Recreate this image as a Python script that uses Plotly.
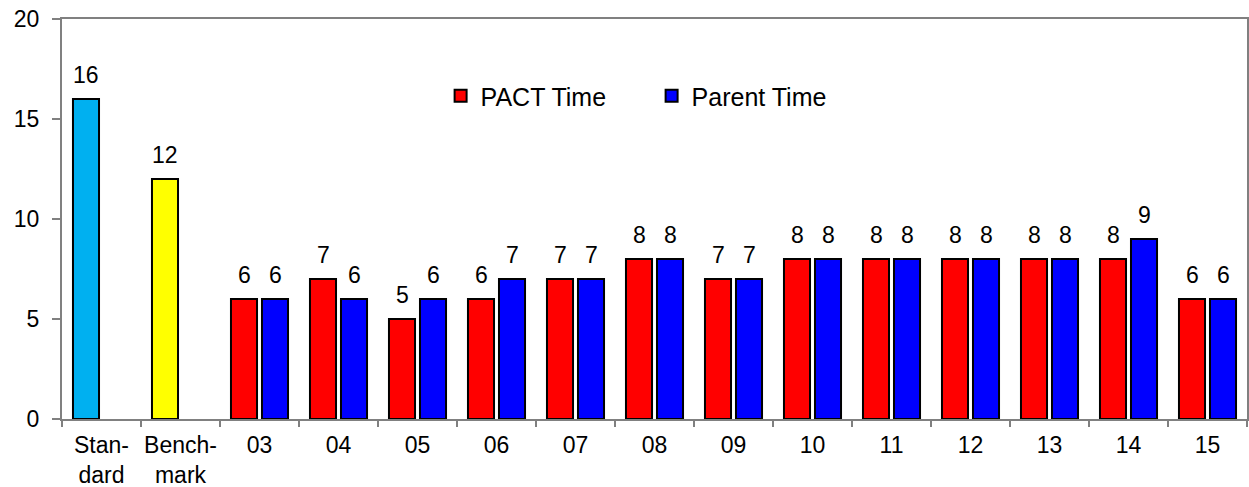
import plotly.graph_objects as go

categories = ["Stan-<br>dard", "Bench-<br>mark", "03", "04", "05", "06", "07", "08",
              "09", "10", "11", "12", "13", "14", "15"]
reference_values = [16, 12] + [None] * 13
reference_colors = ["#00B0F0", "#FFFF00"] + ["#FF0000"] * 13
pact_time = [None, None, 6, 7, 5, 6, 7, 8, 7, 8, 8, 8, 8, 8, 6]
parent_time = [None, None, 6, 6, 6, 7, 7, 8, 7, 8, 8, 8, 8, 9, 6]

FONT = "Liberation Sans, Arial, sans-serif"
fs = 23

fig = go.Figure()
fig.add_trace(go.Bar(
    x=categories, y=pact_time, name="PACT Time", offsetgroup="a",
    marker=dict(color="#FF0000", line=dict(color="black", width=2)),
))
fig.add_trace(go.Bar(
    x=categories, y=reference_values, name="Reference", offsetgroup="a",
    showlegend=False,
    marker=dict(color=reference_colors, line=dict(color="black", width=2)),
))
fig.add_trace(go.Bar(
    x=categories, y=parent_time, name="Parent Time", offsetgroup="b",
    marker=dict(color="#0000FF", line=dict(color="black", width=2)),
))

# value labels above bars (positioned in data coordinates; x as category index)
def label_series(values, xshift):
    for i, v in enumerate(values):
        if v is None:
            continue
        fig.add_annotation(x=i, y=v, xref="x", yref="y", text=str(v),
                           showarrow=False, yanchor="bottom", xanchor="center",
                           xshift=xshift, yshift=9,
                           font=dict(size=fs, family=FONT, color="black"))

label_series(reference_values, -15.5)
label_series(pact_time, -15.5)
label_series(parent_time, 15.5)

fig.update_layout(
    width=1249, height=487,
    margin=dict(l=62, r=2, t=19, b=68),
    paper_bgcolor="white", plot_bgcolor="white",
    barmode="group", bargap=0.215, bargroupgap=0.16,
    font=dict(family=FONT, size=fs, color="black"),
    showlegend=True,
    legend=dict(orientation="h", x=0.3195, y=0.8075, xanchor="left", yanchor="middle",
                entrywidth=166, entrywidthmode="pixels",
                font=dict(size=25, family=FONT, color="black"),
                bgcolor="rgba(0,0,0,0)", traceorder="normal"),
    xaxis=dict(
        type="category", showgrid=False, showline=True, linecolor="#808080", linewidth=2,
        mirror=True, ticks="outside", tickson="boundaries", ticklen=6, tickcolor="#808080",
        tickwidth=2, tickangle=0, tickfont=dict(size=fs, family=FONT, color="black"),
        ticklabelstandoff=4, automargin=False, range=[-0.5, len(categories) - 0.5],
    ),
    yaxis=dict(
        range=[0, 20], tickvals=[0, 5, 10, 15, 20], showgrid=False, zeroline=False,
        showline=True, linecolor="#808080", linewidth=2, mirror=True,
        ticks="outside", ticklen=8, tickcolor="#808080", tickwidth=2,
        tickfont=dict(size=fs, family=FONT, color="black"), ticklabelstandoff=8,
        automargin=False,
    ),
)

fig.write_html("out.html", config={"displayModeBar": False},
               post_script="document.body.style.margin='0';")
